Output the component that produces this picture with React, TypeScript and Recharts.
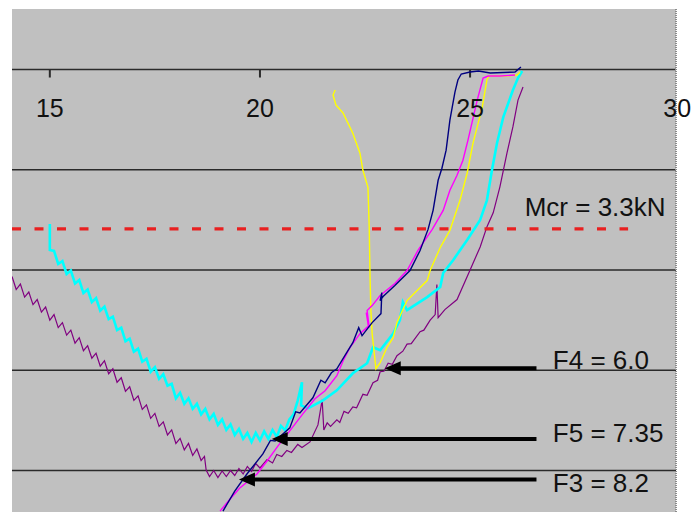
import React from 'react';
import {
  LineChart,
  Line,
  XAxis,
  YAxis,
  CartesianGrid,
  ReferenceLine,
  ReferenceDot,
} from 'recharts';

// ---- data (x = horizontal value, y = load in kN, increasing downward) ----
const xTicks = [15, 20, 25, 30];
const gridLoads = [0, 2, 4, 6, 8];
const mcrLoad = 3.18;
const mcrLabel = 'Mcr = 3.3kN';
const arrowLabels = ['F4 = 6.0', 'F5 = 7.35', 'F3 = 8.2'];
const arrowLoads = [5.96, 7.37, 8.18];
const arrowTips = [22.97, 20.28, 19.5];

const navy = [
  [26.21, -0.05], [26.07, 0.05], [25.48, 0.07], [25.2, 0.03], [25.0, 0.05], [24.79, 0.09],
  [24.71, 0.21], [24.64, 0.45], [24.52, 1.01], [24.43, 1.61], [24.33, 1.97], [24.24, 2.21],
  [24.12, 2.81], [24.0, 3.19], [23.81, 3.61], [23.57, 4.01], [23.21, 4.31], [22.93, 4.53],
  [22.86, 4.61], [22.9, 4.45], [22.88, 4.87], [22.67, 5.05], [22.43, 5.31], [22.35, 5.15],
  [22.21, 5.45], [22.02, 5.71], [21.83, 5.97], [21.7, 6.05], [21.55, 6.25], [21.45, 6.2],
  [21.26, 6.55], [20.95, 6.85], [20.85, 6.83], [20.71, 7.15], [20.36, 7.41], [20.25, 7.4],
  [20.07, 7.67], [19.69, 8.07], [19.4, 8.41], [19.12, 8.81],
];

const magenta = [
  [26.07, 0.11], [25.71, 0.13], [25.43, 0.13], [25.31, 0.17], [25.17, 0.61], [24.95, 1.41],
  [24.83, 1.81], [24.69, 2.11], [24.52, 2.41], [24.36, 2.81], [24.1, 3.19], [23.76, 3.61],
  [23.5, 4.01], [23.21, 4.27], [22.86, 4.51], [22.67, 4.71], [22.55, 4.81], [22.6, 5.15],
  [22.53, 4.85], [22.58, 5.12], [22.38, 5.27], [22.14, 5.55], [21.98, 5.81], [21.83, 6.11],
  [21.55, 6.41], [21.31, 6.57], [21.02, 6.87], [20.71, 7.21], [20.43, 7.51], [20.17, 7.81],
  [19.93, 8.07], [19.52, 8.35], [19.29, 8.57], [19.05, 8.81],
];

const yellow = [
  [21.79, 0.41], [21.74, 0.51], [21.81, 0.71], [21.98, 0.87], [22.21, 1.27], [22.38, 1.67],
  [22.45, 2.01], [22.57, 2.35], [22.6, 3.15], [22.62, 4.15], [22.64, 4.81], [22.67, 5.27],
  [22.74, 5.81], [22.76, 5.97], [22.86, 5.85], [23.02, 5.55], [23.17, 5.35], [23.26, 5.05],
  [23.5, 4.61], [23.74, 4.41], [23.98, 4.21], [24.05, 4.01], [24.29, 3.55], [24.52, 3.21],
  [24.76, 2.61], [24.93, 2.07], [25.07, 1.47], [25.29, 0.75], [25.4, 0.21], [25.45, 0.13],
  [25.83, 0.13], [26.12, 0.11], [26.19, 0.05],
];

const cyan = [
  [15.0, 3.08], [15.0, 3.6], [15.1, 3.62], [15.2, 3.88], [15.3, 3.82], [15.4, 4.08],
  [15.5, 4.01], [15.6, 4.27], [15.7, 4.2], [15.8, 4.46], [15.9, 4.39], [16.0, 4.64],
  [16.1, 4.56], [16.2, 4.81], [16.3, 4.73], [16.4, 4.98], [16.5, 4.93], [16.6, 5.2],
  [16.7, 5.15], [16.8, 5.42], [16.9, 5.37], [17.0, 5.63], [17.1, 5.57], [17.2, 5.83],
  [17.3, 5.77], [17.4, 6.03], [17.5, 5.94], [17.6, 6.17], [17.7, 6.08], [17.8, 6.31],
  [17.9, 6.27], [18.0, 6.56], [18.1, 6.45], [18.2, 6.67], [18.3, 6.56], [18.4, 6.77],
  [18.5, 6.67], [18.6, 6.88], [18.7, 6.77], [18.8, 6.98], [18.9, 6.87], [19.0, 7.09],
  [19.1, 6.98], [19.2, 7.19], [19.3, 7.08], [19.4, 7.29], [19.5, 7.17], [19.6, 7.37],
  [19.7, 7.25], [19.8, 7.43], [19.9, 7.25], [20.0, 7.4], [20.1, 7.22], [20.2, 7.37],
  [20.3, 7.19], [20.4, 7.33], [20.5, 7.11], [20.6, 7.2], [20.7, 6.98], [20.8, 6.88],
  [20.9, 6.6], [21.0, 6.24], [20.98, 6.7], [21.14, 6.76], [21.5, 6.6], [21.83, 6.4],
  [22.21, 6.06], [22.55, 5.86], [22.69, 5.54], [22.86, 5.6], [23.17, 5.27], [23.33, 5.0],
  [23.4, 4.64], [23.5, 4.8], [23.98, 4.54], [24.29, 4.34], [24.36, 4.06], [24.6, 3.8],
  [24.93, 3.4], [25.24, 3.0], [25.4, 2.61], [25.52, 2.01], [25.64, 1.47], [25.79, 0.95],
  [26.02, 0.41], [26.14, 0.17], [26.24, 0.03],
];

const purple = [
  [14.1, 4.13], [14.2, 4.39], [14.3, 4.28], [14.4, 4.54], [14.5, 4.44], [14.6, 4.69],
  [14.7, 4.59], [14.8, 4.84], [14.9, 4.74], [15.0, 5.0], [15.1, 4.89], [15.2, 5.15],
  [15.3, 5.05], [15.4, 5.3], [15.5, 5.2], [15.6, 5.46], [15.7, 5.35], [15.8, 5.61],
  [15.9, 5.51], [16.0, 5.76], [16.1, 5.66], [16.2, 5.92], [16.3, 5.81], [16.4, 6.07],
  [16.5, 5.97], [16.6, 6.24], [16.7, 6.15], [16.8, 6.42], [16.9, 6.33], [17.0, 6.6],
  [17.1, 6.51], [17.2, 6.78], [17.3, 6.69], [17.4, 6.96], [17.5, 6.86], [17.6, 7.12],
  [17.7, 7.03], [17.8, 7.29], [17.9, 7.19], [18.0, 7.46], [18.1, 7.36], [18.2, 7.59],
  [18.3, 7.46], [18.4, 7.7], [18.5, 7.57], [18.6, 7.8], [18.68, 7.72], [18.72, 7.99],
  [18.8, 8.12], [18.9, 8.0], [19.0, 8.14], [19.1, 8.01], [19.2, 8.12], [19.3, 8.0],
  [19.4, 8.1], [19.5, 7.96], [19.6, 8.07], [19.7, 7.92], [19.8, 8.02], [19.9, 7.86],
  [20.0, 7.95], [20.17, 7.78], [20.3, 7.85], [20.4, 7.68], [20.52, 7.72], [20.64, 7.6],
  [20.75, 7.64], [20.9, 7.48], [21.0, 7.54], [21.19, 7.43], [21.38, 7.09], [21.48, 6.59],
  [21.52, 7.19], [21.6, 7.05], [21.68, 7.12], [21.83, 6.99], [21.9, 7.04], [22.0, 6.82],
  [22.1, 6.86], [22.21, 6.73], [22.3, 6.75], [22.45, 6.48], [22.55, 6.5], [22.69, 6.25],
  [22.8, 6.2], [22.86, 6.03], [22.95, 6.02], [23.05, 5.86], [23.15, 5.88], [23.26, 5.71],
  [23.4, 5.62], [23.5, 5.48], [23.6, 5.47], [23.81, 5.23], [23.9, 5.2], [24.05, 5.0],
  [24.17, 4.89], [24.21, 4.29], [24.24, 4.95], [24.4, 4.79], [24.69, 4.59], [25.0, 4.0],
  [25.24, 3.54], [25.4, 3.14], [25.55, 2.86], [25.71, 2.34], [25.88, 1.66], [26.02, 1.14],
  [26.14, 0.61], [26.26, 0.35],
];

const toPts = (arr: number[][]) => arr.map(([x, y]) => ({ x, y }));

const FONT = '"Liberation Sans", Arial, sans-serif';
const X_MIN = 14.1;
const X_MAX = 29.9;
const Y_MIN = -1.207;
const Y_MAX = 8.828;

const textShape = (label: string, anchor: string, size: number, dy = 0, dx = 0) => (p: any) => (
  <text
    x={p.cx + dx}
    y={p.cy + dy}
    textAnchor={anchor}
    fontFamily={FONT}
    fontSize={size}
    fill="#111"
  >
    {label}
  </text>
);

const arrowHead = (p: any) => (
  <path
    d={`M ${p.cx} ${p.cy} L ${p.cx + 16} ${p.cy - 7} L ${p.cx + 16} ${p.cy + 7} Z`}
    fill="#000"
  />
);

const seriesStyle = [
  { data: purple, color: '#800080', width: 1.2 },
  { data: cyan, color: '#00ffff', width: 2.6 },
  { data: yellow, color: '#ffff00', width: 1.4 },
  { data: magenta, color: '#ff00ff', width: 1.4 },
  { data: navy, color: '#000080', width: 1.4 },
];

export default function App() {
  return (
    <div style={{ position: 'absolute', left: 0, top: 0, background: '#fff' }}>
      <LineChart width={693} height={512} margin={{ top: 9, right: 17, bottom: 0, left: 12 }}>
        <CartesianGrid fill="#c0c0c0" horizontal={false} vertical={false} />
        <XAxis type="number" dataKey="x" domain={[X_MIN, X_MAX]} allowDataOverflow hide />
        <YAxis type="number" dataKey="y" domain={[Y_MIN, Y_MAX]} allowDataOverflow reversed hide />

        {gridLoads.map((g) => (
          <ReferenceLine key={`g${g}`} y={g} stroke="#2a2a2a" strokeWidth={1.6} />
        ))}
        {xTicks
          .filter((t) => t <= X_MAX)
          .map((t) => (
            <ReferenceLine
              key={`t${t}`}
              segment={[{ x: t, y: 0 }, { x: t, y: 0.16 }]}
              stroke="#2a2a2a"
              strokeWidth={2}
            />
          ))}

        {seriesStyle.map((s, i) => (
          <Line
            key={i}
            data={toPts(s.data)}
            dataKey="y"
            type="linear"
            stroke={s.color}
            strokeWidth={s.width}
            dot={false}
            activeDot={false}
            isAnimationActive={false}
          />
        ))}

        <ReferenceLine
          segment={[{ x: X_MIN, y: mcrLoad }, { x: 28.76, y: mcrLoad }]}
          stroke="#e82020"
          strokeWidth={3.2}
          strokeDasharray="9 13.5"
        />
        <ReferenceLine x={X_MAX} stroke="#8a8a8a" strokeWidth={2} strokeDasharray="1 1" />

        {arrowLoads.map((load, i) => (
          <ReferenceLine
            key={`a${i}`}
            segment={[{ x: arrowTips[i] + 0.3, y: load }, { x: 26.58, y: load }]}
            stroke="#000"
            strokeWidth={4}
          />
        ))}
        {arrowLoads.map((load, i) => (
          <ReferenceDot key={`h${i}`} x={arrowTips[i]} y={load} r={1} shape={arrowHead} />
        ))}
        {arrowLabels.map((label, i) => (
          <ReferenceDot
            key={`l${i}`}
            x={26.97}
            y={arrowLoads[i]}
            r={1}
            shape={textShape(label, 'start', 26, [1, 3, 12][i])}
          />
        ))}
        <ReferenceDot x={26.3} y={2.92} r={1} shape={textShape(mcrLabel, 'start', 26)} />

        {xTicks.map((t) => (
          <ReferenceDot
            key={`xl${t}`}
            x={t}
            y={0.94}
            r={1}
            ifOverflow="visible"
            shape={textShape(String(t), 'middle', 25, 0, t > X_MAX ? -3 : 0)}
          />
        ))}
      </LineChart>
    </div>
  );
}
